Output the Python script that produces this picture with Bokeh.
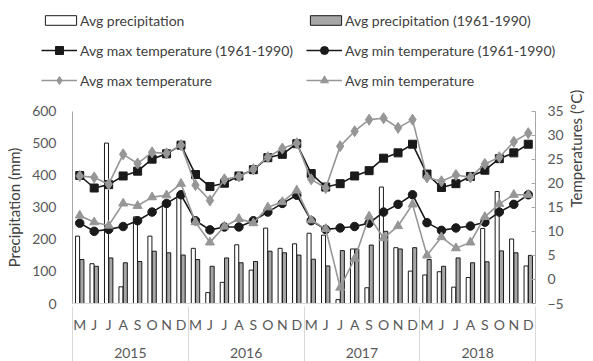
import math
from bokeh.plotting import figure
from bokeh.models import (Range1d, LinearAxis, Legend, LegendItem,
                          FixedTicker, ColumnDataSource)
from bokeh.transform import dodge
from bokeh.embed import file_html
from bokeh.resources import INLINE

years = ["2015", "2016", "2017", "2018"]
months = ["M", "J", "J", "A", "S", "O", "N", "D"]

precip_obs = [210, 124, 500, 52, 270, 210, 315, 340,
              172, 34, 66, 183, 104, 235, 172, 186,
              219, 213, 12, 170, 49, 363, 174, 101,
              89, 99, 51, 81, 234, 349, 201, 117]
precip_clim = [137, 116, 142, 127, 131, 163, 158, 151,
               137, 116, 142, 127, 131, 163, 158, 151,
               138, 117, 165, 170, 182, 225, 170, 174,
               137, 116, 142, 127, 130, 164, 158, 150]
tmax_clim = [21.6, 19.0, 19.7, 21.5, 22.5, 25.0, 26.1, 27.9,
             21.8, 19.3, 20.0, 21.5, 22.8, 25.3, 26.0, 28.2,
             22.0, 19.2, 19.9, 21.5, 22.6, 25.2, 26.3, 28.1,
             21.9, 19.1, 19.9, 21.4, 22.7, 25.1, 26.3, 28.1]
tmin_clim = [11.7, 10.0, 10.4, 11.0, 12.2, 14.0, 15.8, 17.6,
             12.2, 10.3, 10.9, 10.9, 12.2, 14.0, 15.8, 17.5,
             12.2, 10.4, 10.7, 11.0, 11.7, 14.0, 15.6, 17.6,
             11.8, 10.2, 10.7, 11.1, 11.9, 14.0, 15.6, 17.6]
tmax_obs = [21.5, 21.2, 19.8, 26.0, 24.1, 26.4, 26.2, 27.9,
            19.6, 16.4, 20.8, 21.4, 22.9, 25.4, 27.2, 28.3,
            20.8, 19.0, 27.7, 30.8, 33.2, 33.5, 31.5, 33.2,
            21.2, 20.4, 21.7, 21.2, 24.0, 25.4, 28.6, 30.4]
tmin_obs = [13.3, 11.9, 11.2, 15.8, 15.3, 17.1, 17.5, 19.9,
            11.9, 7.7, 11.0, 12.6, 11.7, 15.0, 16.1, 18.5,
            12.3, 10.5, -1.7, 4.3, 13.1, 8.6, 11.1, 15.6,
            5.0, 8.8, 6.5, 7.7, 13.0, 15.7, 17.6, 17.6]

precip_ticks = [0, 100, 200, 300, 400, 500, 600]
temp_ticks = [-5, 0, 5, 10, 15, 20, 25, 30, 35]
precip_lim = (0, 600)
temp_lim = (-5, 35)

# month slots: one unit per month, centred at i + 0.5
n_months = len(years) * len(months)
xpos = [i + 0.5 for i in range(n_months)]
month_labels = {xpos[i]: months[i % len(months)] for i in range(n_months)}
year_centres = [len(months) * (k + 0.5) for k in range(len(years))]
year_labels = {year_centres[k]: years[k] for k in range(len(years))}
year_bounds = [len(months) * k for k in range(len(years) + 1)]

src = ColumnDataSource(dict(x=xpos, po=precip_obs, pc=precip_clim,
                            txc=tmax_clim, tnc=tmin_clim, txo=tmax_obs, tno=tmin_obs))

# ---- layout constants (pixels inside the figure) ----
W, H = 593, 361
BOTTOM = 48                 # panel holding month + year labels
FRAME_H = H - BOTTOM        # frame covers everything above the labels
PLOT_TOP = 110.5            # pixel row of 600 mm / 35 C
PLOT_BASE = 303             # pixel row of 0 mm / -5 C
PLOT_L, PLOT_R = 72, 535    # pixel columns of the two value axes
unit = (PLOT_R - PLOT_L) / n_months
x_start = -PLOT_L / unit
x_end = n_months + (W - PLOT_R) / unit
pp = (PLOT_BASE - PLOT_TOP) / (precip_lim[1] - precip_lim[0])
pt = (PLOT_BASE - PLOT_TOP) / (temp_lim[1] - temp_lim[0])
y_start = precip_lim[0] - (FRAME_H - PLOT_BASE) / pp
y_end = precip_lim[1] + PLOT_TOP / pp
t_start = temp_lim[0] - (FRAME_H - PLOT_BASE) / pt
t_end = temp_lim[1] + PLOT_TOP / pt

FONT = "Lato"
TXT = "#404040"
LBL = "#595959"
GRAY = "#969696"
DARK = "#1a1a1a"
AX = "#a6a6a6"
SEP = "#d9d9d9"

p = figure(width=W, height=H, output_backend="svg", toolbar_location=None,
           x_range=Range1d(x_start, x_end), y_range=Range1d(y_start, y_end),
           min_border_left=0, min_border_right=0, min_border_top=0, min_border_bottom=BOTTOM)
p.extra_y_ranges = {"temp": Range1d(t_start, t_end)}
p.outline_line_color = None
p.xgrid.visible = False
p.ygrid.visible = False

r_po = p.vbar(x=dodge("x", -0.15), top="po", width=0.28, source=src,
              fill_color="white", line_color=DARK, line_width=1)
r_pc = p.vbar(x=dodge("x", 0.15), top="pc", width=0.28, source=src,
              fill_color="#a6a6a6", line_color=DARK, line_width=1)
l_txc = p.line("x", "txc", source=src, y_range_name="temp", line_color=DARK, line_width=1.6)
s_txc = p.scatter("x", "txc", source=src, y_range_name="temp", marker="square", size=8,
                  fill_color=DARK, line_color=DARK)
l_tnc = p.line("x", "tnc", source=src, y_range_name="temp", line_color=DARK, line_width=1.6)
s_tnc = p.scatter("x", "tnc", source=src, y_range_name="temp", marker="circle", size=8.5,
                  fill_color=DARK, line_color=DARK)
l_txo = p.line("x", "txo", source=src, y_range_name="temp", line_color=GRAY, line_width=1.6)
s_txo = p.scatter("x", "txo", source=src, y_range_name="temp", marker="diamond", size=11,
                  fill_color=GRAY, line_color=GRAY)
l_tno = p.line("x", "tno", source=src, y_range_name="temp", line_color=GRAY, line_width=1.6)
s_tno = p.scatter("x", "tno", source=src, y_range_name="temp", marker="triangle", size=9,
                  fill_color=GRAY, line_color=GRAY)

# left value axis, pinned at the start of the months
ya = p.yaxis[0]
ya.fixed_location = 0
ya.bounds = precip_lim
ya.ticker = FixedTicker(ticks=precip_ticks)
ya.axis_label = "Precipitation (mm)"
ya.axis_line_color = AX
ya.major_tick_line_color = None
ya.major_tick_in = 0
ya.major_tick_out = 0
ya.minor_tick_line_color = None
ya.major_label_standoff = 16
ya.major_label_text_font = FONT
ya.major_label_text_font_size = "14px"
ya.major_label_text_color = LBL
ya.axis_label_text_font = FONT
ya.axis_label_text_font_size = "15px"
ya.axis_label_text_font_style = "normal"
ya.axis_label_text_color = TXT
ya.axis_label_standoff = 6

# right value axis, pinned at the end of the months
ra = LinearAxis(y_range_name="temp", ticker=FixedTicker(ticks=temp_ticks),
                axis_label="Temperatures (°C)", fixed_location=n_months, bounds=temp_lim)
ra.axis_line_color = AX
ra.major_tick_line_color = AX
ra.major_tick_in = 4
ra.major_tick_out = 0
ra.minor_tick_line_color = None
ra.major_label_standoff = 12
ra.major_label_text_font = FONT
ra.major_label_text_font_size = "14px"
ra.major_label_text_color = LBL
ra.axis_label_text_font = FONT
ra.axis_label_text_font_size = "15px"
ra.axis_label_text_font_style = "normal"
ra.axis_label_text_color = TXT
ra.axis_label_standoff = 9
try:
    ra.axis_label_orientation = math.pi / 2
except Exception:
    pass
p.add_layout(ra, "right")

# baseline at 0 mm across the months
base = LinearAxis(ticker=FixedTicker(ticks=[]), fixed_location=precip_lim[0],
                  bounds=(0, n_months))
base.axis_line_color = SEP
base.major_tick_line_color = None
base.minor_tick_line_color = None
p.add_layout(base, "below")

# month axis (nearest the frame)
xa = p.xaxis[0]
xa.ticker = FixedTicker(ticks=xpos)
xa.major_label_overrides = month_labels
xa.axis_line_color = None
xa.major_tick_line_color = None
xa.major_tick_in = 0
xa.major_tick_out = 0
xa.minor_tick_line_color = None
xa.major_label_standoff = 2
xa.major_label_text_font = FONT
xa.major_label_text_font_size = "14px"
xa.major_label_text_color = LBL

# year axis; separators are its minor ticks at year boundaries
ya2 = LinearAxis(ticker=FixedTicker(ticks=year_centres, minor_ticks=year_bounds),
                 bounds=(0, n_months))
ya2.major_label_overrides = year_labels
ya2.axis_line_color = None
ya2.major_tick_line_color = None
ya2.major_tick_in = 0
ya2.major_tick_out = 0
ya2.minor_tick_line_color = SEP
ya2.minor_tick_line_width = 1
ya2.minor_tick_in = 29
ya2.minor_tick_out = 30
ya2.major_label_standoff = -18
ya2.major_label_text_font = FONT
ya2.major_label_text_font_size = "14px"
ya2.major_label_text_color = LBL
p.add_layout(ya2, "below")

leg_common = dict(border_line_color=None, background_fill_alpha=0, padding=0, margin=0,
                  label_text_font=FONT, label_text_font_size="14px", label_text_color=TXT,
                  spacing=10, label_height=20, label_width=216)
leg1 = Legend(items=[LegendItem(label="Avg precipitation", renderers=[r_po]),
                     LegendItem(label="Avg precipitation (1961-1990)", renderers=[r_pc])],
              orientation="horizontal", location=(41, FRAME_H - 10 - 20), glyph_height=12,
              glyph_width=39, label_standoff=0, **leg_common)
# vertical legends fill column by column
leg2 = Legend(items=[LegendItem(label="Avg max temperature (1961-1990)", renderers=[l_txc, s_txc]),
                     LegendItem(label="Avg max temperature", renderers=[l_txo, s_txo]),
                     LegendItem(label="Avg min temperature (1961-1990)", renderers=[l_tnc, s_tnc]),
                     LegendItem(label="Avg min temperature", renderers=[l_tno, s_tno])],
              orientation="vertical", ncols=2, location=(41, FRAME_H - 40 - 50), glyph_height=20,
              glyph_width=36, label_standoff=3, **leg_common)
p.add_layout(leg1, "center")
p.add_layout(leg2, "center")

open("out.html", "w").write(file_html(p, INLINE))
